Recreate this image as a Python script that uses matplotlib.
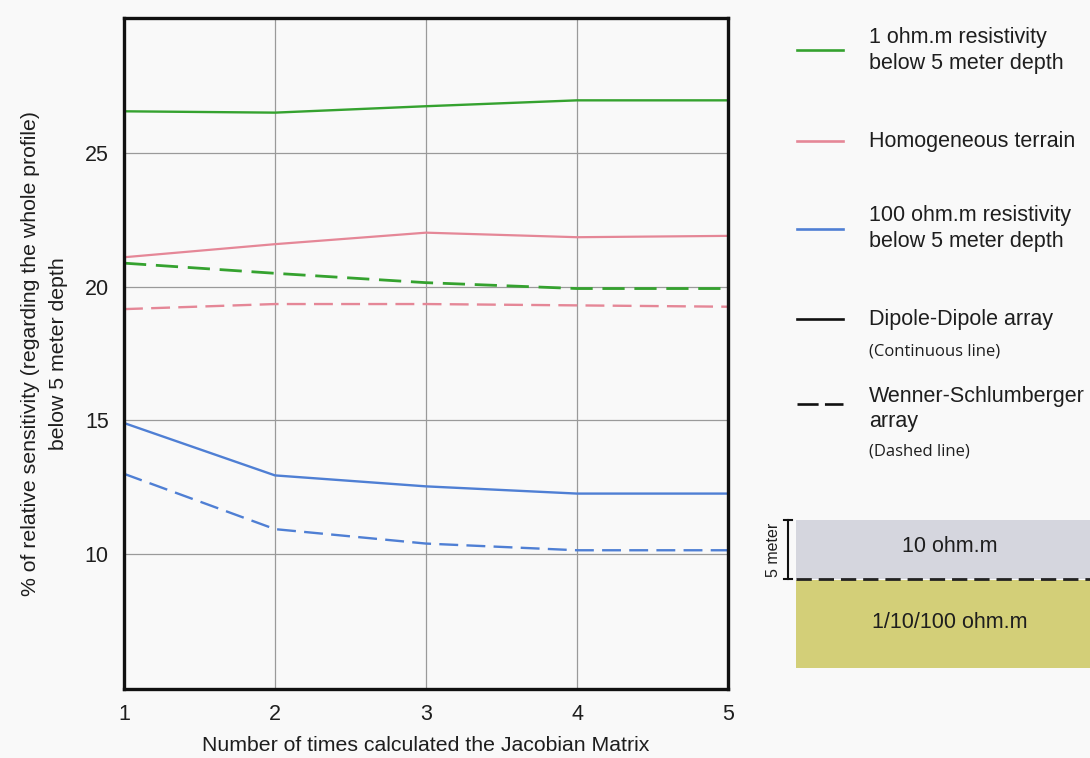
import matplotlib
matplotlib.use("Agg")
import matplotlib.pyplot as plt
from matplotlib.patches import Rectangle
from matplotlib.lines import Line2D

plt.rcParams['font.family'] = ['Liberation Sans', 'DejaVu Sans']

# Iterations of the Jacobian matrix computation
iterations = [1, 2, 3, 4, 5]

# Relative sensitivity below 5 m depth (%), Dipole-Dipole array
dd_1ohm = [26.56, 26.51, 26.75, 26.97, 26.97]
dd_homog = [21.10, 21.59, 22.02, 21.85, 21.90]
dd_100ohm = [14.90, 12.94, 12.53, 12.26, 12.26]

# Relative sensitivity below 5 m depth (%), Wenner-Schlumberger array
ws_1ohm = [20.88, 20.50, 20.15, 19.93, 19.93]
ws_homog = [19.16, 19.35, 19.35, 19.30, 19.25]
ws_100ohm = [13.00, 10.93, 10.39, 10.14, 10.14]

y_ticks = [10, 15, 20, 25]

GREEN = '#35a22f'
PINK = '#e58797'
BLUE = '#4f7fd4'
BG = '#f9f9f9'
TXT = '#1e1e1e'

fig = plt.figure(figsize=(10.9, 7.58), dpi=100, facecolor=BG)
ax = fig.add_axes([124 / 1090, 1 - 689 / 758, 604 / 1090, 671 / 758])
ax.set_facecolor(BG)

dash = (0, (8, 3.5))
ax.plot(iterations, dd_1ohm, color=GREEN, lw=1.7)
ax.plot(iterations, dd_homog, color=PINK, lw=1.6)
ax.plot(iterations, dd_100ohm, color=BLUE, lw=1.7)
ax.plot(iterations, ws_1ohm, color=GREEN, lw=2.0, linestyle=dash)
ax.plot(iterations, ws_homog, color=PINK, lw=1.7, linestyle=dash)
ax.plot(iterations, ws_100ohm, color=BLUE, lw=1.7, linestyle=dash)

ax.set_xlim(1, 5)
ax.set_ylim(4.95, 30.05)
ax.set_xticks(iterations)
ax.set_yticks(y_ticks)
ax.grid(True, color='#9a9a9a', lw=0.9)
ax.set_axisbelow(True)
ax.tick_params(length=0, labelsize=15.5, colors=TXT)
ax.tick_params(axis='y', pad=11)
ax.tick_params(axis='x', pad=11)
for side in ['left', 'bottom', 'top', 'right']:
    ax.spines[side].set_linewidth(2.4)
    ax.spines[side].set_color('#111111')

ax.set_xlabel('Number of times calculated the Jacobian Matrix', fontsize=15.3,
              color=TXT, labelpad=8)
ax.set_ylabel('% of relative sensitivity (regarding the whole profile)\nbelow 5 meter depth',
              fontsize=15.3, color=TXT, labelpad=12, linespacing=1.6)

# Legend drawn in figure coordinates
def fx(px):
    return px / 1090

def fy(py):
    return 1 - py / 758

txt_kw = dict(fontsize=15.5, color=TXT, va='center', ha='left')
small_kw = dict(fontsize=12, color=TXT, va='center', ha='left',
                family=['Open Sans', 'DejaVu Sans'])

entries = [
    (50, GREEN, '-', [(38, '1 ohm.m resistivity'), (64, 'below 5 meter depth')]),
    (141, PINK, '-', [(141, 'Homogeneous terrain')]),
    (229, BLUE, '-', [(215, '100 ohm.m resistivity'), (241, 'below 5 meter depth')]),
    (319, '#111111', '-', [(319, 'Dipole-Dipole array')]),
    (404, '#111111', (0, (8, 2.4)), [(396, 'Wenner-Schlumberger'), (421, 'array')]),
]
for ly, col, ls, lines in entries:
    fig.add_artist(Line2D([fx(797), fx(843)], [fy(ly), fy(ly)], color=col,
                          lw=1.9, linestyle=ls, transform=fig.transFigure))
    for ty, s in lines:
        fig.text(fx(869), fy(ty), s, **txt_kw)
fig.text(fx(869), fy(352), '(Continuous line)', **small_kw)
fig.text(fx(869), fy(452), '(Dashed line)', **small_kw)

# Two-layer model sketch
fig.add_artist(Rectangle((fx(796), fy(579)), fx(300), 59 / 758, facecolor='#d5d6de',
                         edgecolor='none', transform=fig.transFigure))
fig.add_artist(Rectangle((fx(796), fy(668)), fx(300), 88 / 758, facecolor='#d3cf78',
                         edgecolor='none', transform=fig.transFigure))
fig.add_artist(Line2D([fx(796), fx(1090)], [fy(579), fy(579)], color='#222222', lw=2,
                      linestyle=(0, (5.5, 2.5)), transform=fig.transFigure))
fig.text(fx(950), fy(546), '10 ohm.m', fontsize=15.5, color=TXT,
         ha='center', va='center')
fig.text(fx(950), fy(623), '1/10/100 ohm.m', fontsize=15.5, color=TXT,
         ha='center', va='center')
# Depth bracket
fig.add_artist(Line2D([fx(788), fx(788)], [fy(520), fy(579)], color='#111111', lw=1.5,
                      transform=fig.transFigure))
for by in (520, 579):
    fig.add_artist(Line2D([fx(784), fx(792)], [fy(by), fy(by)], color='#111111', lw=1.5,
                          transform=fig.transFigure))
fig.text(fx(774), fy(550), '5 meter', fontsize=11.5, color=TXT, rotation=90,
         ha='center', va='center')

fig.savefig('out.png', dpi=100, facecolor=BG)
